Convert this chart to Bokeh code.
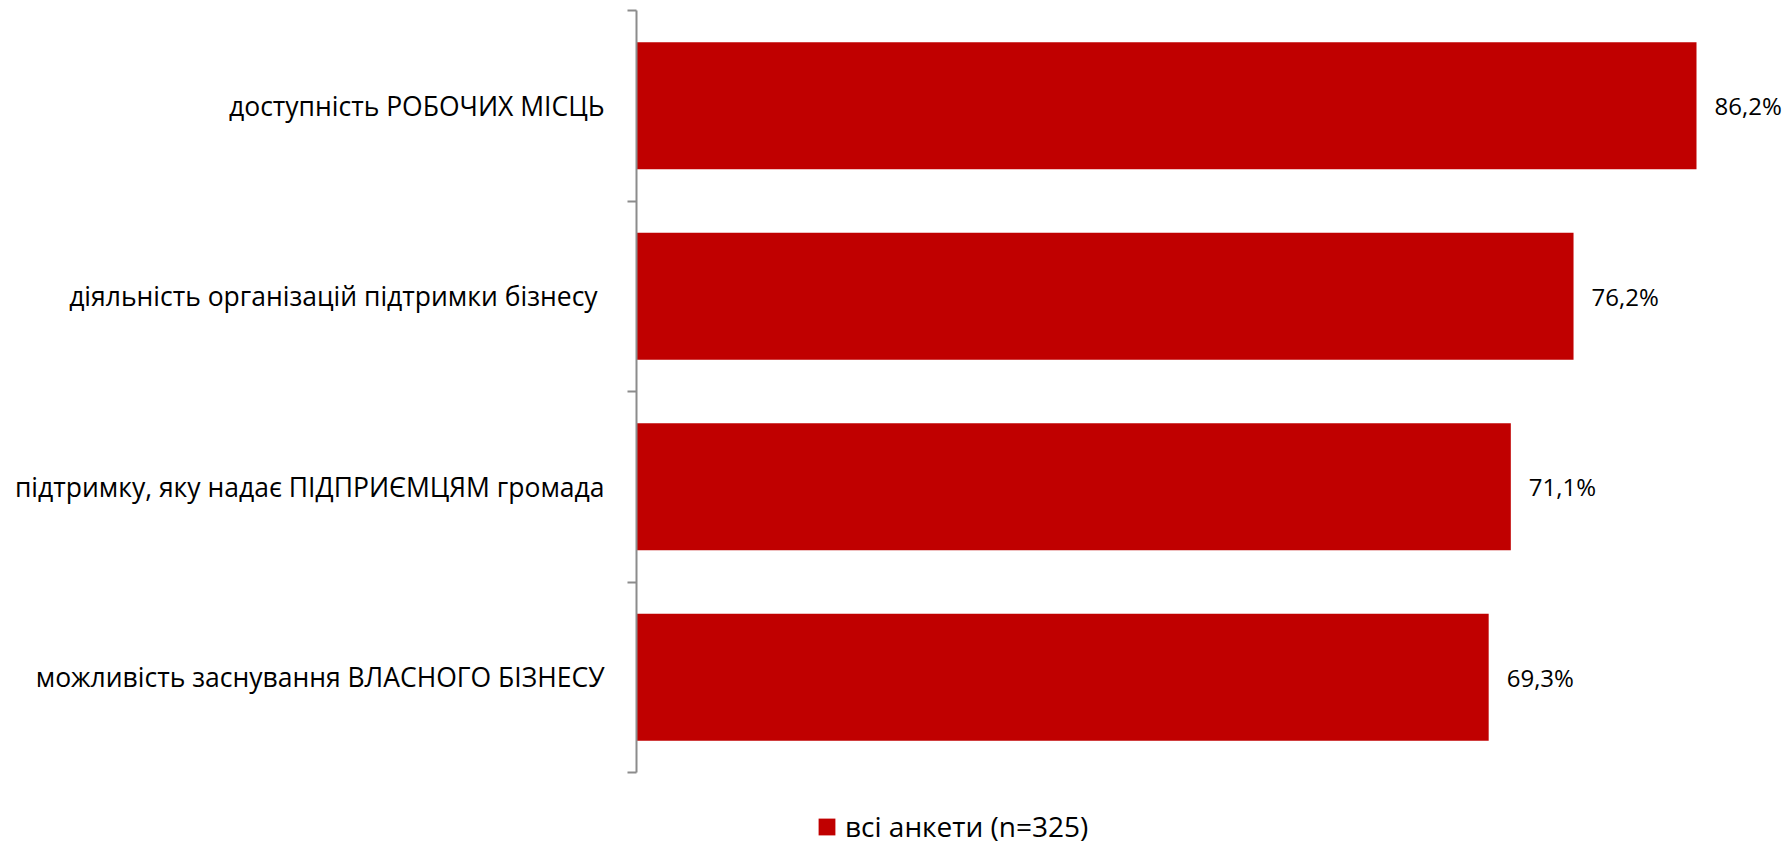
from bokeh.plotting import figure
from bokeh.models import Range1d, FixedTicker, LinearAxis, Legend, LegendItem, ColumnDataSource
from bokeh.core.properties import value
from bokeh.embed import file_html
from bokeh.resources import INLINE

categories = [
    "доступність РОБОЧИХ МІСЦЬ",
    "діяльність організацій підтримки бізнесу ",
    "підтримку, яку надає ПІДПРИЄМЦЯМ громада",
    "можливість заснування ВЛАСНОГО БІЗНЕСУ",
]
values = [86.2, 76.2, 71.1, 69.3]
value_labels = ["86,2%", "76,2%", "71,1%", "69,3%"]
series_name = "всі анкети (n=325)"

FONT = "Open Sans"
RED = "#C00000"
GREY = "#8C8C8C"

pos = [i + 0.5 for i in range(len(categories))]
src = ColumnDataSource(dict(y=pos, v=values, lab=value_labels))

p = figure(width=1787, height=845, output_backend="svg", toolbar_location=None,
           x_range=Range1d(0, 93.6), y_range=Range1d(4.383, 0),
           min_border_left=636, min_border_right=0, min_border_top=10, min_border_bottom=0,
           outline_line_color=None, background_fill_color="white", border_fill_color="white")
p.xaxis.visible = False
p.yaxis.visible = False
p.grid.visible = False

bars = p.hbar(y="y", right="v", left=0, height=0.667, source=src,
              fill_color=RED, line_color=None)
p.text(x="v", y="y", text="lab", source=src, x_offset=18, text_align="left",
       text_baseline="middle", text_font=value(FONT), text_font_size="24px",
       text_color="#000000")

ax = LinearAxis(ticker=FixedTicker(ticks=pos, minor_ticks=[0, 1, 2, 3, 4]), bounds=(0, 4))
ax.major_label_overrides = {p_: c for p_, c in zip(pos, categories)}
ax.major_tick_line_color = None
ax.major_tick_out = 0
ax.major_tick_in = 0
ax.minor_tick_out = 9
ax.minor_tick_in = 0
ax.minor_tick_line_color = GREY
ax.minor_tick_line_width = 2
ax.axis_line_color = GREY
ax.axis_line_width = 2
ax.major_label_standoff = 23
ax.major_label_text_font = FONT
ax.major_label_text_font_size = "26.5px"
ax.major_label_text_color = "#000000"
ax.major_label_orientation = "horizontal"
p.add_layout(ax, "left")

legend = Legend(items=[LegendItem(label=series_name, renderers=[bars])],
                location=(180, 0), orientation="horizontal",
                padding=0, margin=0, border_line_color=None, background_fill_alpha=0,
                glyph_width=21, glyph_height=21, label_standoff=8,
                label_text_font=FONT, label_text_font_size="28px", label_text_color="#000000")
p.add_layout(legend, "center")

open("out.html", "w").write(file_html(p, INLINE))
